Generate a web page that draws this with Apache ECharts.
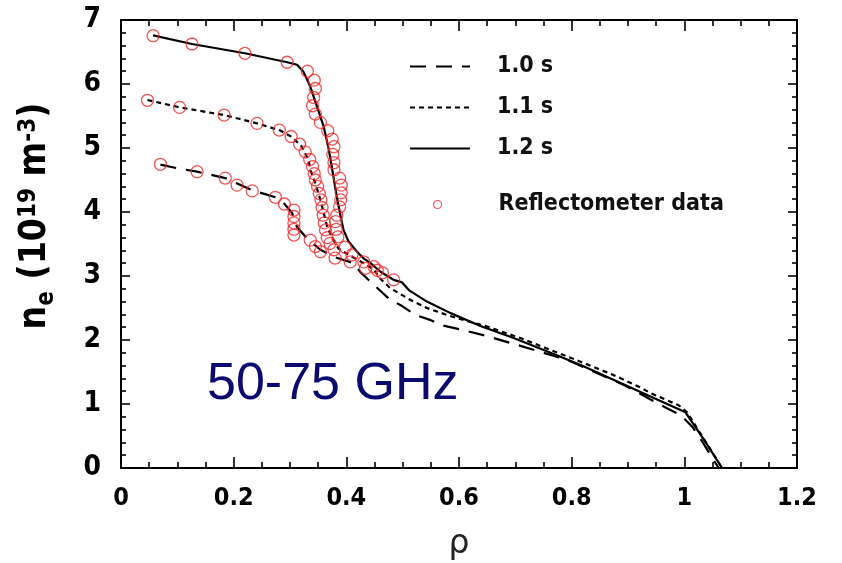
<!DOCTYPE html>
<html><head><meta charset="utf-8">
<script src="https://cdn.jsdelivr.net/npm/echarts@6/dist/echarts.min.js"></script>
<style>html,body{margin:0;padding:0;background:#fff}#c{width:842px;height:563px}</style>
</head><body><div id="c"></div>
<script>
// ---- data ----
const seriesNames = ['1.0 s', '1.1 s', '1.2 s', 'Reflectometer data'];
const xTickValues = [0, 0.2, 0.4, 0.6, 0.8, 1, 1.2];
const yTickValues = [0, 1, 2, 3, 4, 5, 6, 7];

const rho_10 = [0.07,0.102,0.135,0.185,0.233,0.274,0.29,0.304,0.312,0.33,0.354,0.378,0.413,0.425,0.449,0.475,0.499,0.523,0.55,0.57,0.6,0.65,0.697,0.792,0.892,0.97,0.993,1.014,1.032,1.05,1.061];
const ne_10  = [4.74,4.68,4.63,4.53,4.34,4.23,4.13,3.98,3.77,3.59,3.41,3.30,3.20,3.06,2.86,2.65,2.53,2.39,2.31,2.23,2.17,2.06,1.94,1.69,1.30,0.93,0.83,0.645,0.41,0.15,0];

const rho_11 = [0.047,0.104,0.183,0.2415,0.281,0.304,0.321,0.333,0.336,0.345,0.354,0.36,0.366,0.375,0.386,0.404,0.431,0.449,0.46,0.478,0.514,0.543,0.579,0.597,0.65,0.709,0.816,0.875,0.922,0.94,0.99,1.005,1.03,1.067];
const ne_11  = [5.75,5.635,5.515,5.385,5.28,5.17,5.02,4.81,4.66,4.45,4.19,3.98,3.77,3.59,3.43,3.33,3.20,3.10,2.96,2.81,2.625,2.50,2.39,2.34,2.21,2.03,1.66,1.45,1.26,1.17,0.98,0.87,0.52,0];

const rho_12 = [0.057,0.126,0.22,0.295,0.3125,0.324,0.336,0.348,0.36,0.369,0.375,0.384,0.39,0.395,0.404,0.419,0.43,0.443,0.46,0.484,0.499,0.511,0.543,0.585,0.638,0.697,0.757,0.816,0.875,0.934,1.002,1.035,1.067];
const ne_12  = [6.76,6.625,6.48,6.34,6.30,6.19,5.96,5.645,5.33,4.97,4.66,4.19,3.93,3.72,3.54,3.38,3.28,3.20,3.07,2.94,2.90,2.78,2.60,2.42,2.22,2.03,1.82,1.61,1.375,1.14,0.87,0.44,0];

const rho_refl = [0.057,0.126,0.220,0.295,0.331,0.343,0.345,0.342,0.340,0.345,0.354,0.367,0.375,0.378,0.376,0.378,0.378,0.388,0.391,0.391,0.390,0.388,0.383,0.381,0.382,0.385,0.398,0.410,0.431,0.449,0.464,0.484,0.407,0.434,0.455,
  0.047,0.104,0.183,0.2415,0.281,0.302,0.317,0.327,0.335,0.340,0.343,0.345,0.349,0.352,0.355,0.357,0.359,0.361,0.363,0.366,0.371,0.378,0.380,
  0.070,0.135,0.185,0.206,0.233,0.274,0.290,0.307,0.307,0.307,0.307,0.307,0.336,0.345,0.354];
const ne_refl  = [6.755,6.625,6.48,6.34,6.20,6.06,5.93,5.79,5.66,5.53,5.40,5.27,5.14,5.02,4.90,4.77,4.66,4.53,4.42,4.30,4.19,4.08,3.95,3.85,3.73,3.61,3.45,3.33,3.22,3.145,3.05,2.94,3.22,3.12,3.09,
  5.745,5.635,5.515,5.385,5.28,5.18,5.06,4.94,4.82,4.71,4.60,4.50,4.40,4.29,4.19,4.07,3.95,3.83,3.72,3.60,3.51,3.41,3.28,
  4.745,4.63,4.53,4.42,4.33,4.23,4.125,4.03,3.93,3.83,3.73,3.64,3.56,3.46,3.38];

// ---- build ----
const pairs = (xs, ys) => xs.map((x, i) => [x, ys[i]]);
const FONT = '"Liberation Sans Narrow", "DejaVu Sans Condensed", "Arial Narrow", "Liberation Sans", sans-serif';

const chart = echarts.init(document.getElementById('c'), null, {renderer: 'canvas'});

const axisCommonX = {
  type: 'value', min: 0, max: 1.2, interval: 0.2,
  axisLine: {show: true, onZero: false, lineStyle: {color: '#000', width: 2}},
  axisTick: {show: true, inside: true, length: 11, lineStyle: {color: '#000', width: 1.6}},
  minorTick: {show: true, splitNumber: 4, length: 6, lineStyle: {color: '#000', width: 1.6}},
  splitLine: {show: false}, minorSplitLine: {show: false}
};
const axisCommonY = {
  type: 'value', min: 0, max: 7, interval: 1,
  axisLine: {show: true, onZero: false, lineStyle: {color: '#000', width: 2}},
  axisTick: {show: true, inside: true, length: 9, lineStyle: {color: '#000', width: 1.6}},
  minorTick: {show: true, splitNumber: 5, length: 5, lineStyle: {color: '#000', width: 1.6}},
  splitLine: {show: false}, minorSplitLine: {show: false}
};

const lineSeries = (name, xs, ys, type) => ({
  name, type: 'line', data: pairs(xs, ys), symbol: 'none', showSymbol: false,
  smooth: false, z: 2,
  lineStyle: {color: '#000', width: 2.2, type},
  itemStyle: {color: '#000'}
});

const legendText = (pad) => ({fontFamily: FONT, fontWeight: 'bold', fontSize: 23, color: '#111', padding: [0, 0, 0, pad]});
const lineLegend = (name, top) => ({
  data: [name], left: 404, top, itemWidth: 60, itemHeight: 20,
  itemStyle: {opacity: 0},
  textStyle: legendText(22)
});

const option = {
  backgroundColor: '#fff',
  animation: false,
  grid: {left: 121, right: 45, top: 20, bottom: 95, containLabel: false, outerBoundsMode: 'none'},
  xAxis: [
    Object.assign({}, axisCommonX, {
      position: 'bottom',
      axisLabel: {show: true, margin: 18, color: '#000', fontFamily: FONT, fontWeight: 'bold', fontSize: 25,
        customValues: xTickValues, formatter: v => String(v)},
      name: 'ρ', nameLocation: 'middle', nameGap: 60,
      nameTextStyle: {fontFamily: '"DejaVu Sans", sans-serif', fontSize: 33, color: '#222'}
    }),
    Object.assign({}, axisCommonX, {position: 'top', axisLabel: {show: false}})
  ],
  yAxis: [
    Object.assign({}, axisCommonY, {
      position: 'left',
      axisLabel: {show: true, margin: 20, color: '#000', fontFamily: FONT, fontWeight: 'bold', fontSize: 28,
        customValues: yTickValues, formatter: v => String(v)},
      name: '{n|n}{sub|e}{n| (10}{sup|19}{n| m}{sup|-3}{n|)}',
      nameLocation: 'middle', nameGap: 62, nameRotate: 90,
      nameTextStyle: {
        padding: [0, 0, 0, 56],
        rich: {
          n: {fontFamily: FONT, fontWeight: 'bold', fontSize: 37, lineHeight: 48, color: '#000'},
          sub: {fontFamily: FONT, fontWeight: 'bold', fontSize: 24, lineHeight: 24, verticalAlign: 'bottom', color: '#000'},
          sup: {fontFamily: FONT, fontWeight: 'bold', fontSize: 24, lineHeight: 24, verticalAlign: 'top', padding: [6, 0, 0, 0], color: '#000'}
        }
      }
    }),
    Object.assign({}, axisCommonY, {position: 'right', axisLabel: {show: false}})
  ],
  legend: [
    lineLegend(seriesNames[0], 50),
    lineLegend(seriesNames[1], 91),
    lineLegend(seriesNames[2], 132),
    {data: [seriesNames[3]], left: 428, top: 188, itemWidth: 8, itemHeight: 8,
      itemStyle: {color: 'rgba(255,255,255,0)', borderColor: '#ee2626', borderWidth: 1.1},
      textStyle: legendText(52)}
  ],
  graphic: [{
    type: 'text', x: 207, y: 385, z: 10,
    style: {text: '50-75 GHz', fill: '#0b0b6f', font: '52px "Liberation Sans", Arial, sans-serif',
      verticalAlign: 'middle', align: 'left'}
  }],
  series: [
    lineSeries(seriesNames[0], rho_10, ne_10, [16, 10]),
    lineSeries(seriesNames[1], rho_11, ne_11, [5, 4]),
    lineSeries(seriesNames[2], rho_12, ne_12, 'solid'),
    {
      name: seriesNames[3], type: 'scatter', data: pairs(rho_refl, ne_refl), z: 3,
      symbol: 'circle', symbolSize: 12,
      itemStyle: {color: 'rgba(255,255,255,0)', borderColor: '#f02828', borderWidth: 1.3}
    }
  ]
};
chart.setOption(option);
</script>
</body></html>
